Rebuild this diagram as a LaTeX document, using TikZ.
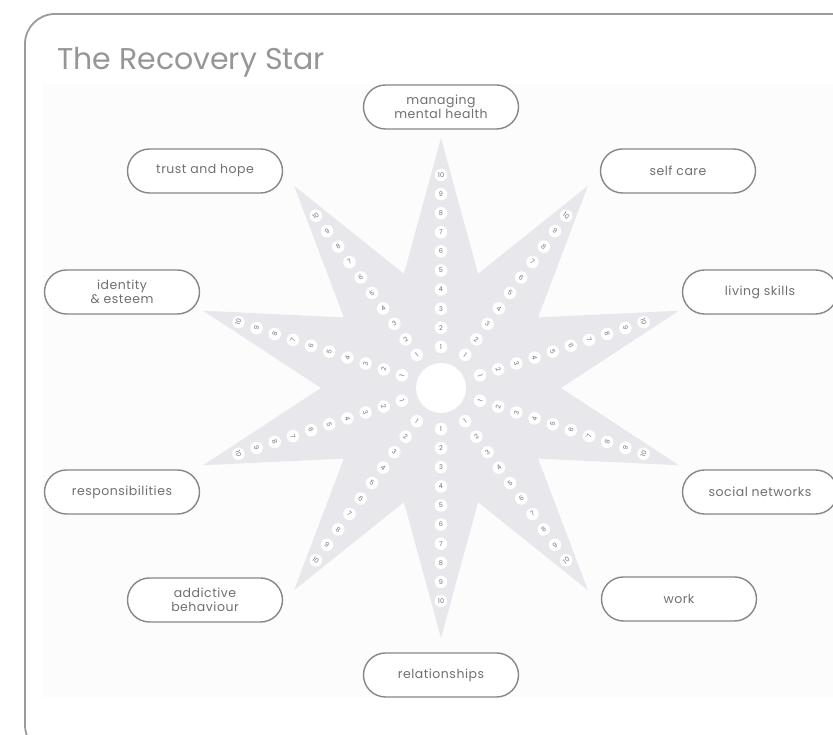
\documentclass[tikz,border=0pt]{standalone}
\usepackage{fontspec}
\setmainfont{Poppins}
\definecolor{starfill}{RGB}{231,231,236}
\definecolor{boxline}{RGB}{135,135,135}
\definecolor{labeltext}{RGB}{112,112,112}
\definecolor{titletext}{RGB}{150,150,150}
\definecolor{framegray}{RGB}{155,155,155}
\definecolor{panel}{RGB}{252,252,252}

\begin{document}
\begin{tikzpicture}[x=1pt, y=1pt,
    area/.style={rectangle, rounded corners=22pt, draw=boxline, line width=1.4pt, fill=white,
        minimum width=155pt, minimum height=44pt, align=center, text=labeltext,
        font=\fontsize{12.5}{14}\selectfont\addfontfeatures{LetterSpace=4}},
    dot/.style={circle, fill=white, inner sep=0pt, minimum size=12.5pt, text=labeltext,
        font=\fontsize{6.5}{7}\selectfont}]

% Page and frame
\clip (0,0) rectangle (833,735);
\fill[white] (0,0) rectangle (833,735);
\draw[framegray, line width=1.8pt, rounded corners=30pt] (25,-20) rectangle (870,721);
\fill[panel] (42,38) rectangle (840,651);

% Title
\node[anchor=base west, text=titletext, inner sep=0pt, font=\fontsize{30}{34}\selectfont] (title) at (57,665) {The Recovery Star};

\begin{scope}[shift={(441,347)}]
    % The ten pointed star
    \fill[starfill] (90:250) \foreach \i in {1,...,10} { -- ({108-36*\i}:120) -- ({90-36*\i}:250) } -- cycle;
    \node[circle, fill=white, minimum size=50pt, inner sep=0pt] (hub) at (0,0) {};

    % Numbers 1 to 10 along every point of the star
    \foreach \a/\r in {90/0, 54/-36, 18/-72, -18/72, -54/36, -90/0, -126/-36, -162/-72, 162/72, 126/36} {
        \foreach \k in {1,...,10} {
            \node[dot] (n\a-\k) at (\a:{22+19.1*\k}) {\rotatebox{\r}{\k}};
        }
    }
\end{scope}

% Heres the labels
\node[area] (mental) at (441,628) {managing\\mental health};
\node[area] (selfcare) at (678,564) {self care};
\node[area] (living) at (760,443) {living skills};
\node[area] (social) at (760,243) {social networks};
\node[area] (work) at (679,136) {work};
\node[area] (relations) at (441,60) {relationships};
\node[area] (addictive) at (205,135) {addictive\\behaviour};
\node[area] (responsible) at (122,243) {responsibilities};
\node[area] (identity) at (122,443) {identity\\\& esteem};
\node[area] (trust) at (205,564) {trust and hope};
\end{tikzpicture}
\end{document}
